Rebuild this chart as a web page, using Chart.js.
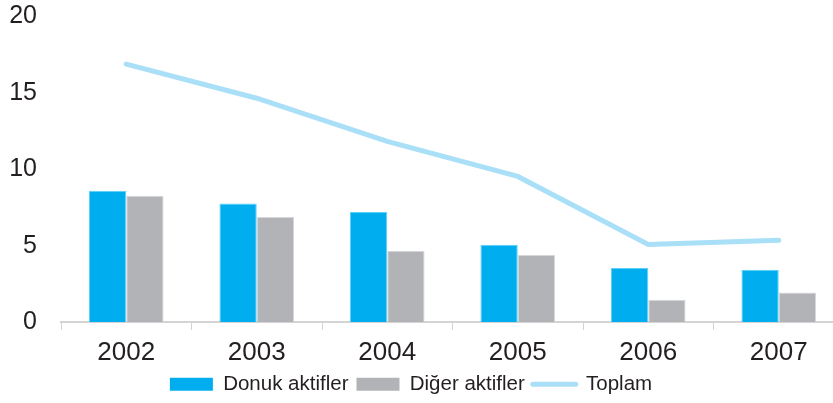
<!DOCTYPE html>
<html>
<head>
<meta charset="utf-8">
<script src="https://cdn.jsdelivr.net/npm/chart.js@4.4.1/dist/chart.umd.min.js"></script>
<style>
    body { margin: 0; overflow: hidden; background: #fff; }
    #wrap { width: 844px; height: 403px; position: relative; }
</style>
</head>
<body>
<div id="wrap"><canvas id="myChart"></canvas></div>
<script>
const years = ['2002', '2003', '2004', '2005', '2006', '2007'];
const donukAktifler = [8.6, 7.75, 7.2, 5.05, 3.54, 3.41];
const digerAktifler = [8.27, 6.87, 4.67, 4.39, 1.45, 1.93];
const toplam = [16.88, 14.65, 11.82, 9.53, 5.07, 5.35];
const yTicks = [0, 5, 10, 15, 20];

Chart.defaults.font.family = "'Liberation Sans', Arial, sans-serif";
Chart.defaults.color = '#231f20';

const lineColor = '#a9dff7';

// nudge the legend a bit left, like in the original picture
const legendShift = {
    id: 'legendShift',
    afterLayout(chart) {
        chart.legend.left -= 11;
        chart.legend.right -= 11;
    }
};

const ctx = document.getElementById('myChart').getContext('2d');
const myChart = new Chart(ctx, {
    type: 'bar',
    data: {
        labels: years,
        datasets: [{
            type: 'line',
            label: 'Toplam',
            data: toplam,
            borderColor: lineColor,
            backgroundColor: lineColor,
            borderWidth: 5,
            pointRadius: 0,
            borderCapStyle: 'round',
            tension: 0,
            order: 0
        }, {
            label: 'Donuk aktifler',
            data: donukAktifler,
            backgroundColor: '#00aeef',
            borderColor: '#5fd0f7',
            borderWidth: 1,
            categoryPercentage: 0.572,
            barPercentage: 1,
            order: 1
        }, {
            label: 'Diğer aktifler',
            data: digerAktifler,
            backgroundColor: '#b1b3b6',
            borderColor: '#d6d7d9',
            borderWidth: 1,
            categoryPercentage: 0.572,
            barPercentage: 1,
            order: 1
        }]
    },
    plugins: [legendShift],
    options: {
        responsive: true,
        maintainAspectRatio: false,
        animation: false,
        layout: { padding: 0, autoPadding: false },
        plugins: {
            tooltip: { enabled: false },
            legend: {
                position: 'bottom',
                maxHeight: 37,
                labels: {
                    font: { size: 20.5 },
                    usePointStyle: true,
                    pointStyleWidth: 43,
                    boxHeight: 13,
                    padding: 8,
                    generateLabels: function (chart) {
                        // order: Donuk, Diğer, Toplam
                        let items = Chart.defaults.plugins.legend.labels.generateLabels(chart);
                        items.sort((a, b) => (a.datasetIndex || 3) - (b.datasetIndex || 3));
                        items.forEach(it => {
                            if (it.text === 'Toplam') {
                                it.pointStyle = 'line';
                                it.strokeStyle = lineColor;
                                it.lineWidth = 5;
                                it.lineCap = 'round';
                            } else {
                                it.pointStyle = 'rect';
                                it.lineWidth = 0;
                            }
                        });
                        return items;
                    }
                }
            }
        },
        scales: {
            x: {
                grid: {
                    display: true,
                    offset: true,
                    drawOnChartArea: false,
                    drawTicks: true,
                    tickLength: 8,
                    color: '#d4d4d4'
                },
                border: { display: true, color: '#d4d4d4', width: 2 },
                afterFit: function (axis) {
                    axis.height = 44;
                },
                ticks: { font: { size: 26 }, padding: 7.5 }
            },
            y: {
                min: 0,
                max: 20,
                grid: { display: false, drawTicks: false },
                border: { display: false },
                afterBuildTicks: function (axis) {
                    axis.ticks = yTicks.map(v => ({ value: v }));
                },
                afterFit: function (axis) {
                    axis.width = 61;
                    axis.paddingTop = 16.5;
                    axis.paddingBottom = 0;
                },
                ticks: { font: { size: 25 }, padding: 24 }
            }
        }
    }
});
</script>
</body>
</html>
